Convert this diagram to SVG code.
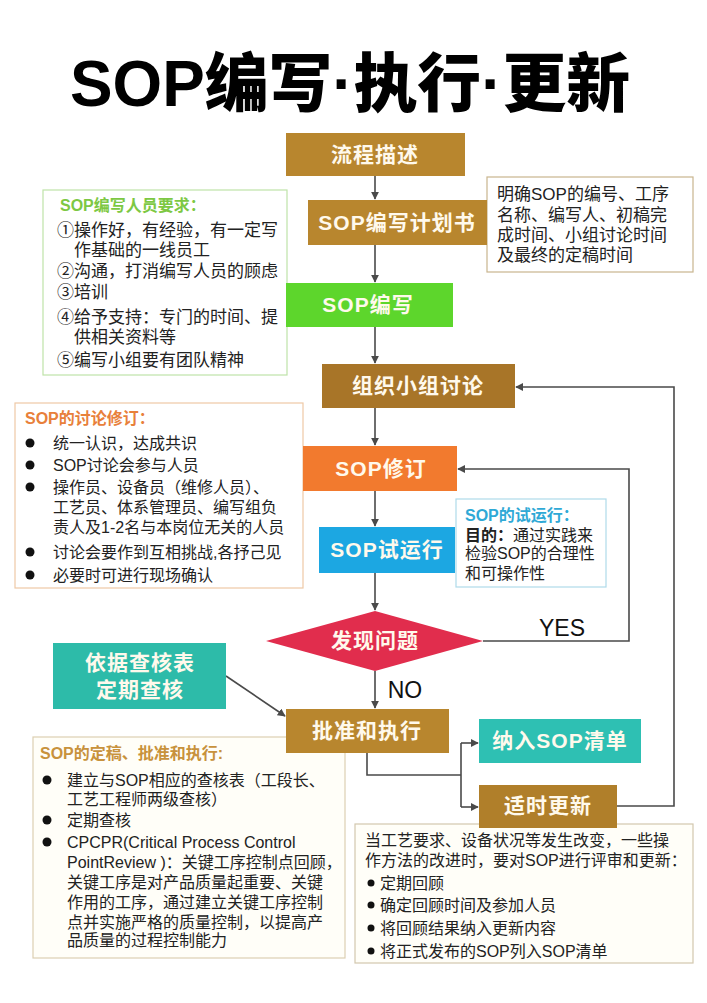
<svg xmlns="http://www.w3.org/2000/svg" width="707" height="1003" viewBox="0 0 707 1003">
<defs>
<marker id="ah" viewBox="0 0 10 10" refX="9" refY="5" markerWidth="8" markerHeight="8" markerUnits="userSpaceOnUse" orient="auto">
<path d="M0,0 L10,5 L0,10 z" fill="#4a4a4a"/>
</marker>
<style>
text{font-family:"Liberation Sans","Noto Sans CJK SC",sans-serif;}
.title{font-size:64px;font-weight:900;fill:#000;}
.nt{font-size:21px;font-weight:bold;fill:#FFF9EC;text-anchor:middle;letter-spacing:1px;}
.body{font-size:16px;fill:#222;}
.b17{font-size:17px;fill:#222;}
.hd{font-size:16px;font-weight:bold;}
.lbl{font-size:23px;fill:#111;text-anchor:middle;}
.cn{fill:none;stroke:#4a4a4a;stroke-width:1.6;}
.note{stroke-width:1.2;}
.brown{fill:#B8862E;}
</style>
</defs>
<rect width="707" height="1003" fill="#fff"/>
<text class="title" x="350" y="106" text-anchor="middle" textLength="560" lengthAdjust="spacingAndGlyphs">SOP编写·执行·更新</text>

<g id="note-writer">
<rect class="note" x="43" y="190" width="244" height="185" fill="#fff" stroke="#BFE3A8"/>
<text class="hd" x="60" y="211" fill="#7DC843">SOP编写人员要求：</text>
<text class="b17" x="57" y="236">①操作好，有经验，有一定写</text>
<text class="b17" x="74" y="256">作基础的一线员工</text>
<text class="b17" x="57" y="277">②沟通，打消编写人员的顾虑</text>
<text class="b17" x="57" y="298">③培训</text>
<text class="b17" x="57" y="323">④给予支持：专门的时间、提</text>
<text class="b17" x="74" y="343">供相关资料等</text>
<text class="b17" x="57" y="366">⑤编写小组要有团队精神</text>
</g>

<g id="note-plan">
<rect class="note" x="487" y="177" width="206" height="95" fill="#fff" stroke="#C9B58E"/>
<text class="b17" x="497" y="200">明确SOP的编号、工序</text>
<text class="b17" x="497" y="221">名称、编写人、初稿完</text>
<text class="b17" x="497" y="241">成时间、小组讨论时间</text>
<text class="b17" x="497" y="261">及最终的定稿时间</text>
</g>

<g id="note-discuss">
<rect class="note" x="15" y="403" width="288" height="185" fill="#fff" stroke="#EEC9A6"/>
<text class="hd" x="25" y="424" fill="#E8803A">SOP的讨论修订：</text>
<circle cx="30" cy="443" r="4.5" fill="#111"/>
<text class="body" x="53" y="449">统一认识，达成共识</text>
<circle cx="30" cy="465" r="4.5" fill="#111"/>
<text class="body" x="53" y="471">SOP讨论会参与人员</text>
<circle cx="30" cy="487" r="4.5" fill="#111"/>
<text class="body" x="53" y="493">操作员、设备员（维修人员）、</text>
<text class="body" x="53" y="513">工艺员、体系管理员、编写组负</text>
<text class="body" x="53" y="533">责人及1-2名与本岗位无关的人员</text>
<circle cx="30" cy="552" r="4.5" fill="#111"/>
<text class="body" x="53" y="558">讨论会要作到互相挑战,各抒己见</text>
<circle cx="30" cy="575" r="4.5" fill="#111"/>
<text class="body" x="53" y="581">必要时可进行现场确认</text>
</g>

<g id="note-trial">
<rect class="note" x="456" y="499" width="150" height="88" fill="#fff" stroke="#AFDBEA"/>
<text class="hd" x="465" y="521" fill="#2FA9D6">SOP的试运行：</text>
<text class="body" x="465" y="541"><tspan font-weight="bold">目的：</tspan>通过实践来</text>
<text class="body" x="465" y="559">检验SOP的合理性</text>
<text class="body" x="465" y="579">和可操作性</text>
</g>

<g id="note-approve">
<rect class="note" x="33" y="737" width="312" height="221" fill="#FFFEF8" stroke="#DCCFB2"/>
<text class="hd" x="40" y="759" fill="#C8923C">SOP的定稿、批准和执行:</text>
<circle cx="47" cy="780" r="4.5" fill="#111"/>
<text class="body" x="67" y="786">建立与SOP相应的查核表（工段长、</text>
<text class="body" x="67" y="805">工艺工程师两级查核）</text>
<circle cx="47" cy="820" r="4.5" fill="#111"/>
<text class="body" x="67" y="826">定期查核</text>
<circle cx="47" cy="842" r="4.5" fill="#111"/>
<text class="body" x="67" y="848">CPCPR(Critical Process Control</text>
<text class="body" x="67" y="868">PointReview )：关键工序控制点回顾，</text>
<text class="body" x="67" y="888">关键工序是对产品质量起重要、关键</text>
<text class="body" x="67" y="908">作用的工序，通过建立关键工序控制</text>
<text class="body" x="67" y="928">点并实施严格的质量控制，以提高产</text>
<text class="body" x="67" y="946">品质量的过程控制能力</text>
</g>

<g id="note-update">
<rect class="note" x="355" y="824" width="338" height="139" fill="#FFFEF8" stroke="#D2C7AE"/>
<text class="body" x="365" y="846">当工艺要求、设备状况等发生改变，一些操</text>
<text class="body" x="365" y="866">作方法的改进时，要对SOP进行评审和更新：</text>
<circle cx="371" cy="883" r="3.5" fill="#111"/>
<text class="body" x="380" y="889">定期回顾</text>
<circle cx="371" cy="905" r="3.5" fill="#111"/>
<text class="body" x="380" y="911">确定回顾时间及参加人员</text>
<circle cx="371" cy="928" r="3.5" fill="#111"/>
<text class="body" x="380" y="934">将回顾结果纳入更新内容</text>
<circle cx="371" cy="951" r="3.5" fill="#111"/>
<text class="body" x="380" y="957">将正式发布的SOP列入SOP清单</text>
</g>

<g id="connectors">
<path class="cn" d="M375,176 V199" marker-end="url(#ah)"/>
<path class="cn" d="M375,245 V282" marker-end="url(#ah)"/>
<path class="cn" d="M375,327 V363" marker-end="url(#ah)"/>
<path class="cn" d="M375,408 V445" marker-end="url(#ah)"/>
<path class="cn" d="M375,491 V526" marker-end="url(#ah)"/>
<path class="cn" d="M375,573 V610" marker-end="url(#ah)"/>
<path class="cn" d="M375,671 V708" marker-end="url(#ah)"/>
<path class="cn" d="M483,641 H629 V469 H458" marker-end="url(#ah)"/>
<path class="cn" d="M617,806 H674 V387 H516" marker-end="url(#ah)"/>
<path class="cn" d="M226,676 L285,716" marker-end="url(#ah)"/>
<path class="cn" d="M367,753 V775 H461"/>
<path class="cn" d="M461,743 V807"/>
<path class="cn" d="M461,743 H478" marker-end="url(#ah)"/>
<path class="cn" d="M461,807 H478" marker-end="url(#ah)"/>
<text class="lbl" x="562" y="636">YES</text>
<text class="lbl" x="405" y="698">NO</text>
</g>

<g id="n-describe">
<rect x="286" y="133" width="179" height="43" fill="#B8862E"/>
<text class="nt" x="375" y="162">流程描述</text>
</g>
<g id="n-plan">
<rect x="308" y="200" width="179" height="45" fill="#B8862E"/>
<text class="nt" x="397" y="230" font-size="22">SOP编写计划书</text>
</g>
<g id="n-write">
<rect x="286" y="283" width="167" height="44" fill="#5DD62C"/>
<text class="nt" x="368" y="312" font-size="22">SOP编写</text>
</g>
<g id="n-group">
<rect x="322" y="364" width="193" height="44" fill="#A87528"/>
<text class="nt" x="418" y="393">组织小组讨论</text>
</g>
<g id="n-revise">
<rect x="303" y="446" width="154" height="45" fill="#F27A2E"/>
<text class="nt" x="381" y="476" font-size="22">SOP修订</text>
</g>
<g id="n-trial">
<rect x="319" y="527" width="136" height="46" fill="#1CA7E2"/>
<text class="nt" x="387" y="557" font-size="22">SOP试运行</text>
</g>
<g id="n-problem">
<polygon points="266,641 375,611 483,641 375,671" fill="#E12D4D"/>
<text class="nt" x="375" y="648">发现问题</text>
</g>
<g id="n-approve">
<rect x="286" y="709" width="163" height="44" fill="#B8862E"/>
<text class="nt" x="367" y="738">批准和执行</text>
</g>
<g id="n-check">
<rect x="53" y="643" width="173" height="66" fill="#2DBBA9"/>
<text class="nt" x="140" y="670">依据查核表</text>
<text class="nt" x="140" y="697">定期查核</text>
</g>
<g id="n-list">
<rect x="479" y="719" width="162" height="44" fill="#2EC0B3"/>
<text class="nt" x="560" y="748">纳入SOP清单</text>
</g>
<g id="n-update">
<rect x="479" y="785" width="138" height="43" fill="#B07F2A"/>
<text class="nt" x="548" y="813">适时更新</text>
</g>
</svg>
